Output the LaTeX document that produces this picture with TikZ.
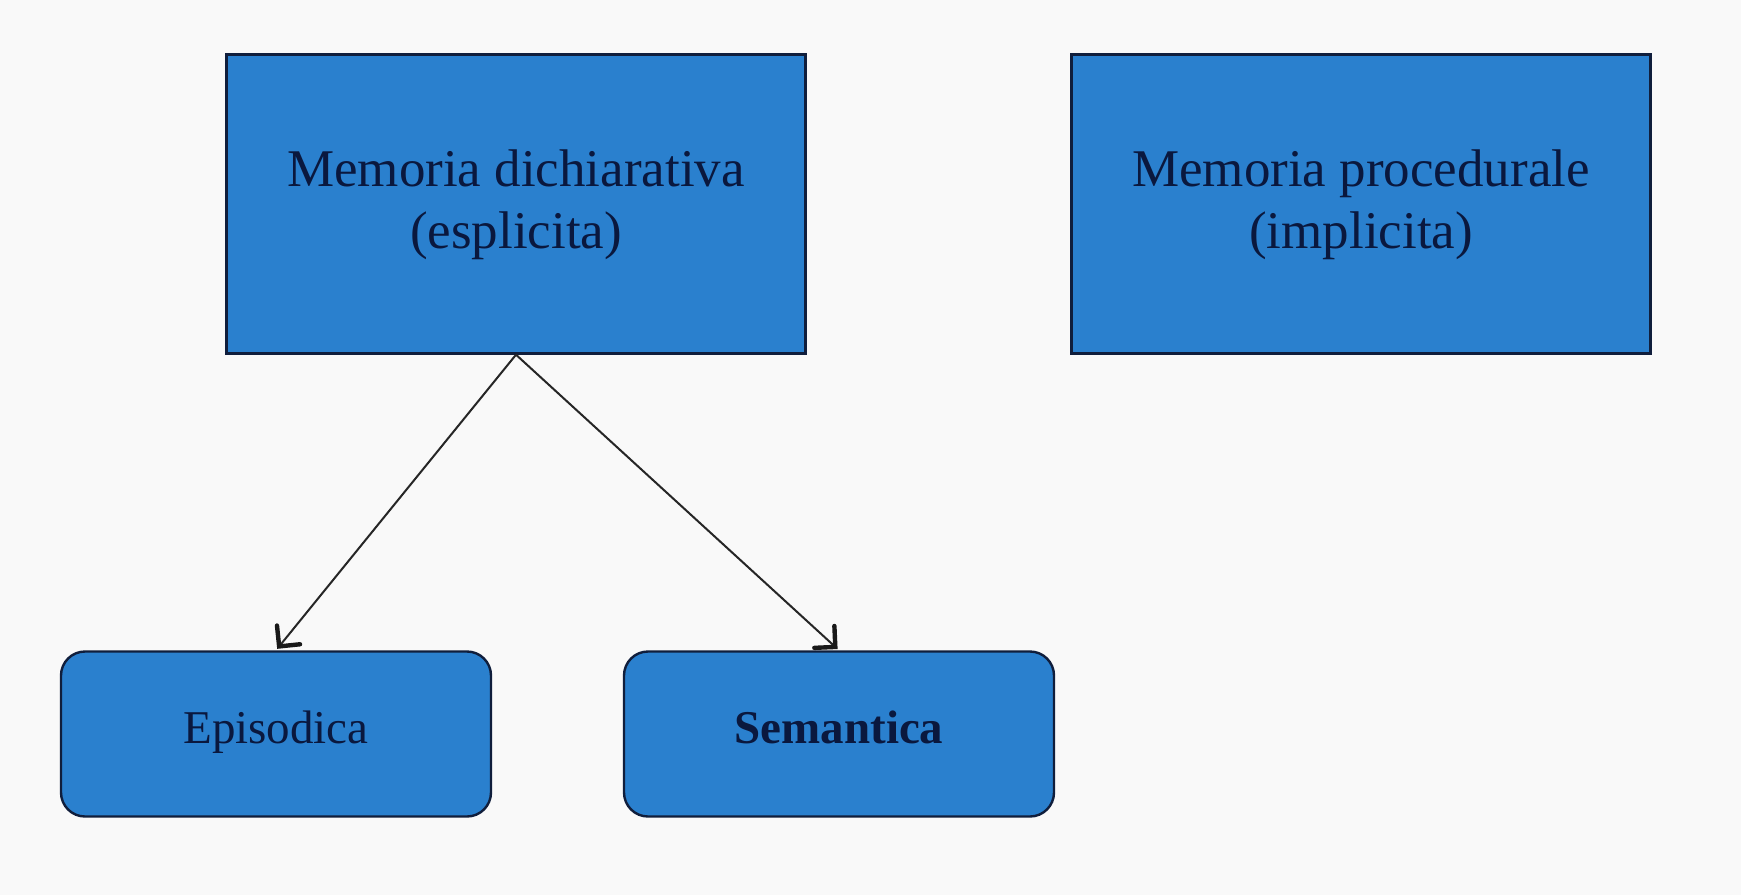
\documentclass[tikz,border=0pt]{standalone}
\usepackage{fontspec}
\setmainfont{Liberation Serif}
\usetikzlibrary{calc}
\definecolor{boxfill}{RGB}{42,128,206}
\definecolor{boxline}{RGB}{16,30,60}
\definecolor{inktext}{RGB}{10,24,62}
\definecolor{paper}{RGB}{249,249,249}
\begin{document}
\begin{tikzpicture}[x=1pt,y=-1pt,
  bigbox/.style={draw=boxline, line width=2.4pt, fill=boxfill,
    minimum width=579pt, minimum height=299pt},
  bigtext/.style={text=inktext, align=center, inner sep=0pt,
    font=\fontsize{53}{62}\selectfont},
  smallbox/.style={draw=boxline, line width=2.4pt, fill=boxfill,
    rounded corners=24pt, minimum width=430pt, minimum height=165pt},
  smalltext/.style={text=inktext, inner sep=0pt, anchor=base,
    font=\fontsize{47}{54}\selectfont},
  link/.style={draw=black!85, line width=2pt},
  barb/.style={draw=black!90, line width=4.4pt, line cap=round, line join=miter}]
  % page
  \fill[paper] (0,0) rectangle (1741,895);
  \useasboundingbox (0,0) rectangle (1741,895);
  % top level
  \node[bigbox] (dich) at (516,204) {};
  \node[bigtext] (dicht) at (516,205) {Memoria dichiarativa\\(esplicita)};
  \node[bigbox] (proc) at (1361,204) {};
  \node[bigtext] (proct) at (1361,205) {Memoria procedurale\\(implicita)};
  % sub types
  \node[smallbox] (epi) at (276,734) {};
  \node[smalltext] (epit) at (276,743) {Episodica};
  \node[smallbox] (sem) at (839,734) {};
  \node[smalltext] (semt) at (839,743) {\bfseries Semantica};
  % connectors with open V heads
  \coordinate (tipE) at ($(epi.north)!5pt!(dich.south)$);
  \coordinate (tipS) at ($(sem.north)!5pt!(dich.south)$);
  \draw[link] (dich.south) -- (tipE);
  \draw[link] (dich.south) -- (tipS);
  \draw[barb] ($(tipE)!21pt!45:(dich.south)$) -- (tipE) -- ($(tipE)!21pt!-45:(dich.south)$);
  \draw[barb] ($(tipS)!21pt!45:(dich.south)$) -- (tipS) -- ($(tipS)!21pt!-45:(dich.south)$);
\end{tikzpicture}
\end{document}
